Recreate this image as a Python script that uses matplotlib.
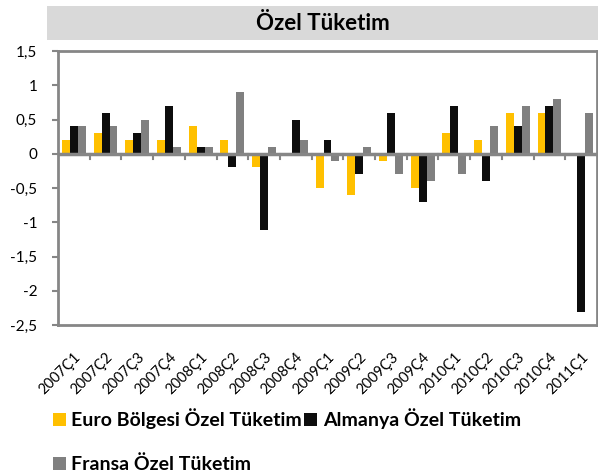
import numpy as np
import matplotlib
matplotlib.use("Agg")
import matplotlib.pyplot as plt
from matplotlib.patches import Rectangle
from matplotlib.ticker import FixedLocator, FuncFormatter

plt.rcParams['font.family'] = ['Lato', 'DejaVu Sans']

# Quarterly private consumption growth (%)
quarters = ["2007Ç1", "2007Ç2", "2007Ç3", "2007Ç4", "2008Ç1", "2008Ç2", "2008Ç3", "2008Ç4",
            "2009Ç1", "2009Ç2", "2009Ç3", "2009Ç4", "2010Ç1", "2010Ç2", "2010Ç3", "2010Ç4",
            "2011Ç1"]
euro = [0.2, 0.3, 0.2, 0.2, 0.4, 0.2, -0.2, 0.0,
        -0.5, -0.6, -0.1, -0.5, 0.3, 0.2, 0.6, 0.6, 0.0]
almanya = [0.4, 0.6, 0.3, 0.7, 0.1, -0.2, -1.12, 0.5,
           0.2, -0.3, 0.6, -0.7, 0.7, -0.4, 0.4, 0.7, -2.31]
fransa = [0.4, 0.4, 0.5, 0.1, 0.1, 0.9, 0.1, 0.2,
          -0.1, 0.1, -0.3, -0.4, -0.3, 0.4, 0.7, 0.8, 0.6]

labels = ["Euro Bölgesi Özel Tüketim", "Almanya Özel Tüketim", "Fransa Özel Tüketim"]
colors = ["#FFC000", "#0D0D0D", "#808080"]
axis_gray = "#868686"

fig = plt.figure(figsize=(5.98, 4.74), dpi=100)
ax = fig.add_axes([58 / 598, 1 - 325 / 474, 539 / 598, 274 / 474])

x = np.arange(len(quarters))
w = 0.25
bars = []
for i, (vals, col, lab) in enumerate(zip([euro, almanya, fransa], colors, labels)):
    b = ax.bar(x + (i - 1) * w, vals, width=w, color=col, label=lab, zorder=2)
    bars.append(b)

ax.set_xlim(-0.5, len(quarters) - 0.5)
ax.set_ylim(-2.5, 1.5)

# y axis: comma decimals like the source spreadsheet
ax.yaxis.set_major_locator(FixedLocator(np.arange(-2.5, 1.51, 0.5)))
ax.yaxis.set_major_formatter(FuncFormatter(lambda v, p: f"{v:g}".replace(".", ",")))
ax.tick_params(axis='y', length=4, width=1.5, color=axis_gray, labelsize=11, pad=11)

ax.set_xticks(x)
ax.set_xticklabels(quarters, rotation=45, ha='right', rotation_mode='anchor', fontsize=10.5)
ax.tick_params(axis='x', length=0, pad=18)

for s in ax.spines.values():
    s.set_color(axis_gray)
    s.set_linewidth(2)

# zero line with category separators
ax.axhline(0, color=axis_gray, lw=2.5, zorder=3)
for b in np.arange(0.5, len(quarters) - 0.5, 1):
    ax.plot([b, b], [0, -0.07], color=axis_gray, lw=1.5, zorder=3)

# title band
fig.patches.append(Rectangle((47 / 598, 1 - 40 / 474), 551 / 598, 34 / 474,
                             transform=fig.transFigure, facecolor="#D9D9D9",
                             edgecolor="none", zorder=0))
fig.text(323 / 598, 1 - 24 / 474, "Özel Tüketim", ha='center', va='center',
         fontsize=16, fontweight='bold')

handles = [bars[0], bars[2], bars[1]]
leg_labels = [labels[0], labels[2], labels[1]]
fig.legend(handles, leg_labels, loc='upper left', bbox_to_anchor=(53 / 598, 1 - 408 / 474),
           ncol=2, frameon=False, columnspacing=0.1, handlelength=0.65, handleheight=0.65,
           handletextpad=0.3, labelspacing=1.35, borderaxespad=0, borderpad=0,
           prop={'weight': 'bold', 'size': 14})

fig.savefig("out.png", dpi=100)
